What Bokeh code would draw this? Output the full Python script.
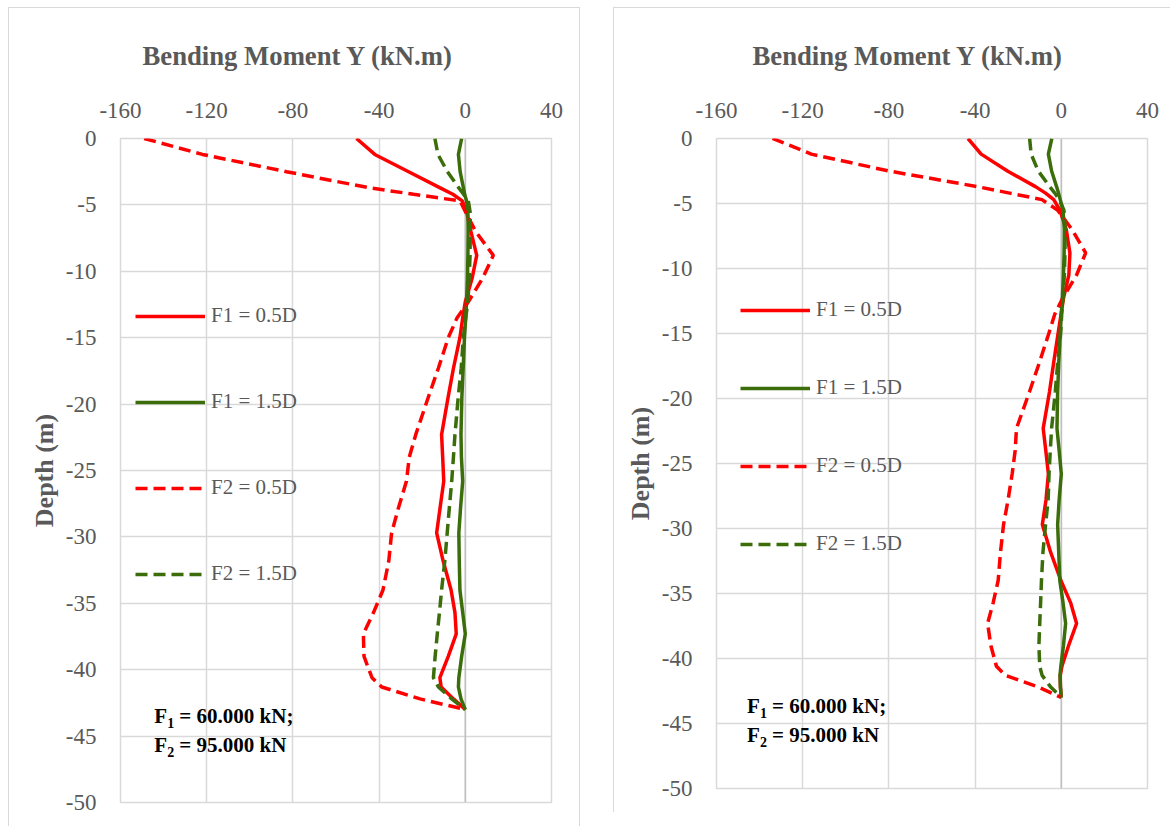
from bokeh.plotting import figure
from bokeh.models import (FixedTicker, Legend, LegendItem, Label, Span, Range1d, Spacer)
from bokeh.layouts import row, column
from bokeh.core.properties import value
from bokeh.embed import file_html
from bokeh.resources import INLINE

# ---------------- data ----------------
depth = [0, -1.2, -2.5, -3.7, -4.2, -4.7, -5.5, -7.0, -8.8, -10.5, -12.3, -13.5, -15.0,
         -17.3, -19.5, -22.3, -24.0, -25.8, -27.8, -29.7, -31.8, -34.0, -35.7, -37.3,
         -39.0, -40.6, -41.3, -42.2, -43.0]

# left chart
left_f1_05 = [-50.5, -42, -26.3, -11.9, -5.8, -1.4, 0.6, 2.6, 5.3, 3.2, 0, -1.2, -2.5, -5.5,
              -8, -11, -10.5, -10, -11.7, -13.3, -10.3, -6.6, -4.8, -4.2, -7.9, -11.8, -11.2,
              -5.5, 0]
left_f1_15 = [-1.7, -3.2, -2.4, -0.9, -0.3, 0.6, 1.2, 1.3, 1.2, 1.0, 0.6, 0.2, -0.4, -1.0,
              -1.6, -2.0, -1.8, -1.2, -2.2, -3.0, -2.8, -2.5, -1.2, 0.0, -1.7, -3.0, -3.2,
              -2.0, 0]
left_f2_05 = [-149, -122, -83, -45, -24, -2.4, 0, 4.8, 13, 8.1, 1.4, -3.8, -7.9, -12.5,
              -17.2, -23, -26, -27.3, -31, -34.2, -35.5, -38.2, -42.6, -47.3, -47, -43.3,
              -38.8, -21, 0]
left_f2_15 = [-14.1, -12.7, -8.3, -3.1, -0.8, 1.4, 2.2, 2.3, 2.2, 1.8, 1.2, 0.2, -0.9, -1.9,
              -3.3, -4.8, -5.5, -6.3, -7.4, -8.4, -9.5, -11, -12, -13, -14, -14.8, -12.5,
              -6.3, 0]

# right chart
right_f1_05 = [-43.3, -37.2, -25, -12, -7.3, -3.5, -0.7, 2.3, 4, 3.5, 1, -0.1, -1.5, -3.6,
               -5.5, -8.4, -7.2, -6, -7.1, -8.8, -5, -0.2, 4.3, 7.1, 3.4, 0.3, -0.5, -0.4, 0]
right_f1_15 = [-4.4, -6, -4.5, -2.2, -1.3, -0.5, 0.8, 1.4, 1.3, 1, 0.5, 0, -0.5, -1.2, -1.7,
               -2, -1, 0, -1, -1.7, -1.2, -0.7, 0.8, 2, 1, -0.2, -0.6, -0.4, 0]
right_f2_05 = [-134, -116, -80, -39, -24, -9, -1.8, 5, 11.3, 7.1, 0.6, -3, -5.8, -10.3,
               -14.8, -20.8, -21.4, -22.8, -24.7, -26.8, -28.2, -29.3, -31.6, -34.2, -32.7,
               -30.1, -26, -10.6, 0]
right_f2_15 = [-14.7, -14, -10.7, -5.4, -3, -1, 1.2, 1.8, 1.7, 1.4, 0.8, 0.2, -0.3, -1.7,
               -2.8, -4.5, -5.1, -5.7, -6.1, -7.3, -8.5, -9.2, -9.6, -10, -10.4, -10, -8.9,
               -4.9, 0]

series_labels = ["F1 = 0.5D", "F1 = 1.5D", "F2 = 0.5D", "F2 = 1.5D"]
x_ticks = [-160, -120, -80, -40, 0, 40]
x_tick_labels = ["-160", "-120", "-80", "-40", "0", "40"]
y_ticks = [0, -5, -10, -15, -20, -25, -30, -35, -40, -45, -50]
y_tick_labels = ["0", "-5", "-10", "-15", "-20", "-25", "-30", "-35", "-40", "-45", "-50"]
title_text = "Bending Moment Y (kN.m)"
y_label = "Depth (m)"
note_f1 = ["F", "1", "= 60.000 kN;"]
note_f2 = ["F", "2", "= 95.000 kN"]

RED = "#FF0000"
GREEN = "#3B6E0B"
GRID = "#D9D9D9"
TXT = "#595959"
FONT = "'Liberation Serif', 'DejaVu Serif', serif"


def make_panel(series, width, height, mb_left, mb_right, mb_top, mb_bottom, border_css,
               title_offset, legend_loc, legend_spacing, note_x, note_y1, note_y2):
    p = figure(width=width, height=height, x_range=Range1d(-160, 40), y_range=Range1d(-50, 0),
               x_axis_location="above", output_backend="svg", toolbar_location=None,
               min_border_left=mb_left, min_border_right=mb_right,
               min_border_top=mb_top, min_border_bottom=mb_bottom,
               title=title_text)
    p.styles = border_css
    p.outline_line_color = GRID
    p.outline_line_width = 1.5
    p.background_fill_color = "white"
    p.border_fill_color = "white"

    p.title.align = "left"
    p.title.offset = title_offset
    p.title.standoff = 57
    p.title.text_font = FONT
    p.title.text_font_size = "26.7px"
    p.title.text_font_style = "bold"
    p.title.text_color = TXT

    p.xaxis.ticker = FixedTicker(ticks=x_ticks)
    p.yaxis.ticker = FixedTicker(ticks=y_ticks)
    p.xaxis.major_label_overrides = dict(zip(x_ticks, x_tick_labels))
    p.yaxis.major_label_overrides = dict(zip(y_ticks, y_tick_labels))
    p.xgrid.ticker = FixedTicker(ticks=x_ticks)
    p.ygrid.ticker = FixedTicker(ticks=y_ticks)
    for g in (p.xgrid, p.ygrid):
        g.grid_line_color = GRID
        g.grid_line_width = 1.5
    for ax in (p.xaxis, p.yaxis):
        ax.axis_line_color = None
        ax.major_tick_line_color = None
        ax.minor_tick_line_color = None
        ax.major_label_text_font = FONT
        ax.major_label_text_font_size = "23px"
        ax.major_label_text_color = TXT
    p.xaxis.major_label_standoff = 15
    p.yaxis.major_label_standoff = 18
    p.yaxis.axis_label = y_label
    p.yaxis.axis_label_text_font = FONT
    p.yaxis.axis_label_text_font_size = "26px"
    p.yaxis.axis_label_text_font_style = "bold"
    p.yaxis.axis_label_text_color = TXT
    p.yaxis.axis_label_standoff = 4

    p.add_layout(Span(location=0, dimension="height", line_color="#BFBFBF",
                      line_width=1.5, level="underlay"))

    styles = [(RED, None), (GREEN, None), (RED, "12 6"), (GREEN, "12 6")]
    items = []
    for vals, lab, (col, dash) in zip(series, series_labels, styles):
        kw = dict(line_color=col, line_width=3.5)
        if dash:
            kw["line_dash"] = dash
        r = p.line(vals, depth, **kw)
        items.append(LegendItem(label=value(lab), renderers=[r]))

    legend = Legend(items=items, location=legend_loc, orientation="vertical",
                    glyph_width=70, glyph_height=24, label_height=24,
                    spacing=legend_spacing, label_standoff=6, padding=0, margin=0,
                    border_line_color=None, background_fill_alpha=0,
                    label_text_font=FONT, label_text_font_size="21px",
                    label_text_color=TXT)
    p.add_layout(legend)

    for ny, parts in ((note_y1, note_f1), (note_y2, note_f2)):
        common = dict(x=note_x, y=ny, text_font=FONT, text_font_style="bold",
                      text_color="black", text_baseline="alphabetic")
        p.add_layout(Label(text=parts[0], text_font_size="21px", **common))
        p.add_layout(Label(text=parts[1], text_font_size="14px", x_offset=12.8,
                           y_offset=-7, **common))
        p.add_layout(Label(text=parts[2], text_font_size="21px", x_offset=25, **common))
    return p


edge = "1px solid #D9D9D9"
p1 = make_panel([left_f1_05, left_f1_15, left_f2_05, left_f2_15],
                width=572, height=819, mb_left=111, mb_right=30, mb_top=130, mb_bottom=25,
                border_css={"border-top": edge, "border-left": edge, "border-right": edge},
                title_offset=22, legend_loc=(15, 216), legend_spacing=61,
                note_x=-144.3, note_y1=-43.52, note_y2=-45.66)
p2 = make_panel([right_f1_05, right_f1_15, right_f2_05, right_f2_15],
                width=557, height=805, mb_left=102, mb_right=24, mb_top=130, mb_bottom=25,
                border_css={"border-top": edge, "border-left": edge},
                title_offset=36, legend_loc=(24, 232), legend_spacing=53,
                note_x=-145.8, note_y1=-43.62, note_y2=-45.92)

layout = column(Spacer(height=7),
                row(Spacer(width=8), p1, Spacer(width=33), p2))
open("out.html", "w").write(file_html(layout, INLINE))
